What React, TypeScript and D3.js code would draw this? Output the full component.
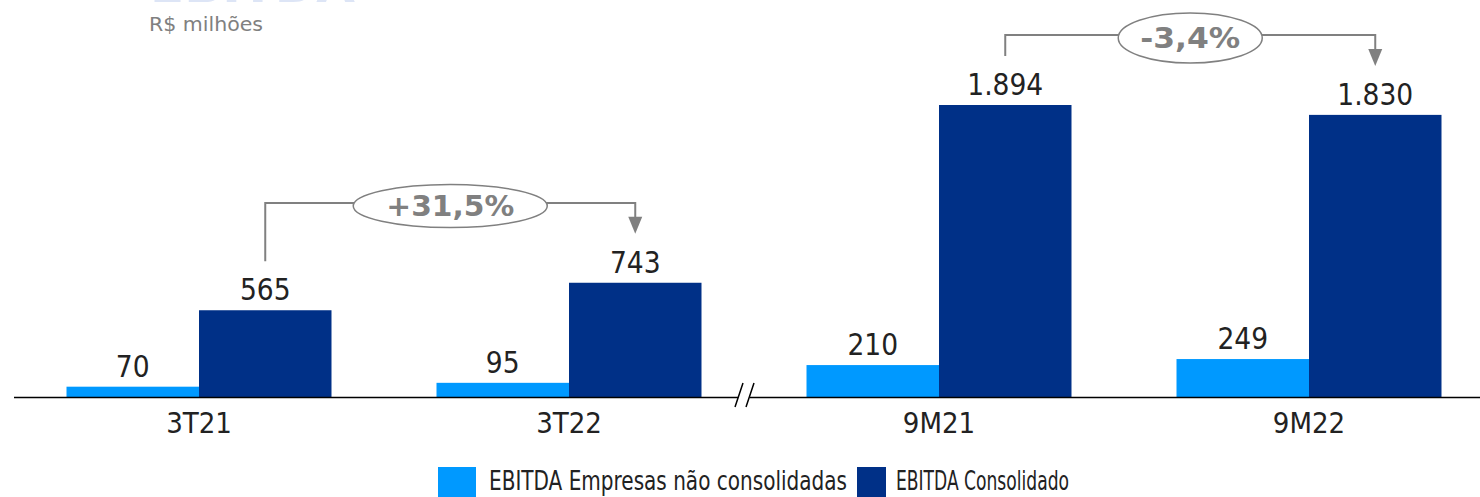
import React from "react";
import * as d3 from "d3";

const categories = ["3T21", "3T22", "9M21", "9M22"];
const seriesNames = ["EBITDA Empresas não consolidadas", "EBITDA Consolidado"];
const naoConsolidadas = [70, 95, 210, 249];
const consolidado = [565, 743, 1894, 1830];
const valueLabelsA = ["70", "95", "210", "249"];
const valueLabelsB = ["565", "743", "1.894", "1.830"];
const variations = [
  { from: 0, to: 1, label: "+31,5%" },
  { from: 2, to: 3, label: "-3,4%" },
];

const W = 1480;
const H = 497;
const FONT = "'DejaVu Sans Condensed', 'DejaVu Sans', sans-serif";
const LIGHT = "#0099ff";
const DARK = "#003087";
const GREY = "#808080";

export default function App() {
  const baseline = 397.5;
  const y = d3.scaleLinear().domain([0, 1894]).range([baseline, 105]);
  const x = d3
    .scaleBand<string>()
    .domain(categories)
    .range([14, 1494])
    .paddingInner(0.2838)
    .paddingOuter(0.1419);
  const inner = d3
    .scaleBand<string>()
    .domain(seriesNames)
    .range([0, x.bandwidth()]);
  const series = [naoConsolidadas, consolidado];
  const labels = [valueLabelsA, valueLabelsB];
  const colors = [LIGHT, DARK];

  const annY = [203, 35];
  const ellipse = [
    { rx: 97, ry: 21.5, tw: 128 },
    { rx: 72, ry: 25, tw: 100 },
  ];

  return (
    <svg
      width={W}
      height={H}
      style={{ position: "absolute", left: 0, top: 0, fontFamily: FONT }}
    >
      <rect width={W} height={H} fill="#fff" />
      {/* cut-off title */}
      <text
        x={150}
        y={2}
        fontSize={44}
        fontWeight="bold"
        fill="#dde5f6"
        textLength={205}
        lengthAdjust="spacingAndGlyphs"
      >
        EBITDA
      </text>
      <text
        x={149}
        y={31}
        fontSize={20}
        fill={GREY}
        textLength={114}
        lengthAdjust="spacingAndGlyphs"
      >
        R$ milhões
      </text>

      {/* bars */}
      {categories.map((c, i) => (
        <g key={c} transform={`translate(${x(c)},0)`}>
          {series.map((s, k) => {
            const bx = inner(seriesNames[k])!;
            const bw = inner.bandwidth();
            return (
              <g key={k}>
                <rect
                  x={bx}
                  y={y(s[i])}
                  width={bw}
                  height={baseline - y(s[i])}
                  fill={colors[k]}
                />
                <text
                  x={bx + bw / 2}
                  y={y(s[i]) - 10}
                  textAnchor="middle"
                  fontSize={29.5}
                  fill="#222"
                >
                  {labels[k][i]}
                </text>
              </g>
            );
          })}
          <text
            x={x.bandwidth() / 2}
            y={433}
            textAnchor="middle"
            fontSize={29}
            fill="#222"
          >
            {c}
          </text>
        </g>
      ))}

      {/* axis with break */}
      <line x1={14} x2={738} y1={baseline} y2={baseline} stroke="#000" strokeWidth={1.5} />
      <line x1={750} x2={W} y1={baseline} y2={baseline} stroke="#000" strokeWidth={1.5} />
      <line x1={735} y1={407} x2={743} y2={383} stroke="#000" strokeWidth={1.5} />
      <line x1={746} y1={407} x2={754} y2={383} stroke="#000" strokeWidth={1.5} />

      {/* variation annotations */}
      {variations.map((v, i) => {
        const c0 = categories[v.from];
        const c1 = categories[v.to];
        const bw = inner.bandwidth();
        const xFrom = x(c0)! + inner(seriesNames[1])! + bw / 2;
        const xTo = x(c1)! + inner(seriesNames[1])! + bw / 2;
        const yFrom = y(consolidado[v.from]) - 49;
        const yTo = y(consolidado[v.to]) - 49;
        const ly = annY[i];
        const cx = (xFrom + xTo) / 2;
        const { rx, ry, tw } = ellipse[i];
        const tip = yTo;
        return (
          <g key={i}>
            <path
              d={`M${xFrom},${yFrom}V${ly}H${xTo}V${tip - 15}`}
              fill="none"
              stroke={GREY}
              strokeWidth={2}
            />
            <path
              d={`M${xTo - 7},${tip - 17}L${xTo + 7},${tip - 17}L${xTo},${tip}Z`}
              fill={GREY}
            />
            <ellipse
              cx={cx}
              cy={ly + 3}
              rx={rx}
              ry={ry}
              fill="#fff"
              stroke={GREY}
              strokeWidth={1.5}
            />
            <text
              x={cx}
              y={ly + 13}
              textAnchor="middle"
              fontSize={28}
              fontWeight="bold"
              fill={GREY}
              textLength={tw}
              lengthAdjust="spacingAndGlyphs"
              style={{ fontFamily: "'DejaVu Sans', sans-serif" }}
            >
              {v.label}
            </text>
          </g>
        );
      })}

      {/* legend */}
      <rect x={438} y={467} width={38} height={30} fill={LIGHT} />
      <text
        x={489}
        y={490}
        fontSize={26}
        fill="#222"
        textLength={358}
        lengthAdjust="spacingAndGlyphs"
      >
        {seriesNames[0]}
      </text>
      <rect x={857} y={467} width={29} height={30} fill={DARK} />
      <text
        x={896}
        y={490}
        fontSize={26}
        fill="#222"
        textLength={173}
        lengthAdjust="spacingAndGlyphs"
      >
        {seriesNames[1]}
      </text>
    </svg>
  );
}
